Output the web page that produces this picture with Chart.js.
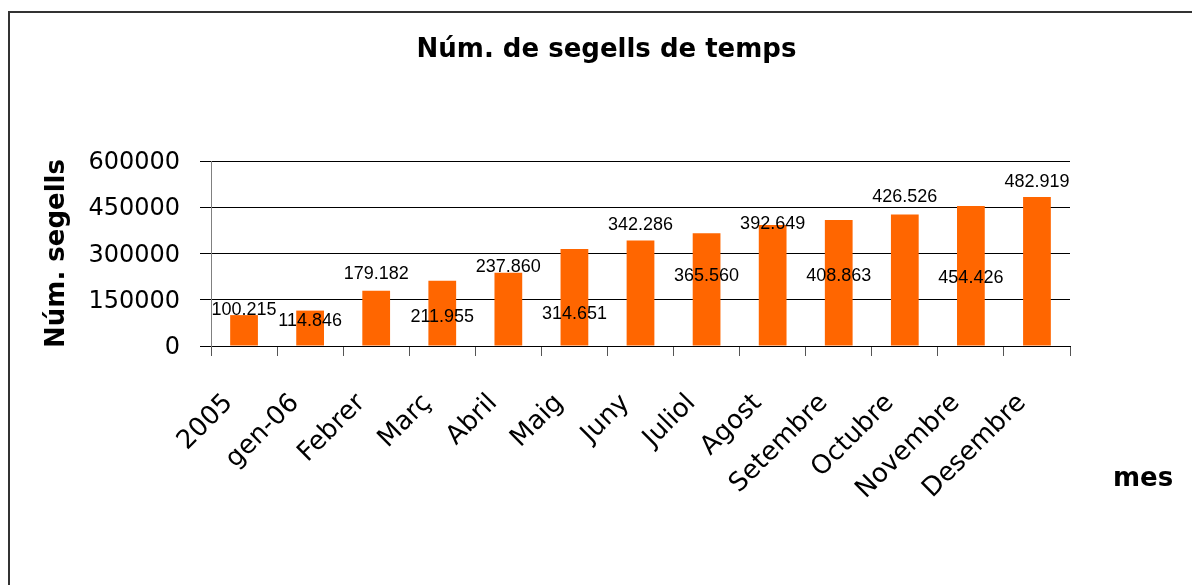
<!DOCTYPE html>
<html>
<head>
<meta charset="utf-8">
<script src="https://cdn.jsdelivr.net/npm/chart.js@4.4.0/dist/chart.umd.min.js"></script>
<style>
  html, body { margin: 0; padding: 0; background: #fff; }
  #wrap { position: relative; width: 1192px; height: 585px; overflow: hidden; }
  #frame { position: absolute; left: 8px; top: 11px; width: 1300px; height: 700px;
           border-left: 2px solid #333; border-top: 2px solid #333; }
  canvas { position: absolute; left: 0; top: 0; }
</style>
</head>
<body>
<div id="wrap">
  <div id="frame"></div>
  <canvas id="myChart" width="1192" height="585"></canvas>
</div>
<script>
const categories = ['2005', 'gen-06', 'Febrer', 'Març', 'Abril', 'Maig', 'Juny', 'Juliol', 'Agost', 'Setembre', 'Octubre', 'Novembre', 'Desembre'];
const segells = [100215, 114846, 179182, 211955, 237860, 314651, 342286, 365560, 392649, 408863, 426526, 454426, 482919];
const yTicks = [0, 150000, 300000, 450000, 600000];

// where each value label sits, px from the top of its bar (negative = above)
const labelShift = [-5, 10, -17, 36, -6, 65, -15, 43, -1, 56, -17, 72, -15];

function fmt(v) {
    return String(v).replace(/\B(?=(\d{3})+(?!\d))/g, '.');
}

// value labels on the bars
const barLabels = {
    id: 'barLabels',
    afterDatasetsDraw(chart) {
        const ctx = chart.ctx;
        const meta = chart.getDatasetMeta(0);
        ctx.save();
        ctx.font = '18px "Liberation Sans", Arial, sans-serif';
        ctx.fillStyle = '#000';
        ctx.textAlign = 'center';
        ctx.textBaseline = 'middle';
        meta.data.forEach((bar, i) => {
            ctx.fillText(fmt(segells[i]), bar.x, bar.y + labelShift[i]);
        });
        ctx.restore();
    }
};

// x axis title sits off to the right, like in the original
const xTitle = {
    id: 'xTitle',
    afterDraw(chart) {
        const ctx = chart.ctx;
        const area = chart.chartArea;
        ctx.save();
        ctx.font = 'bold 26px "DejaVu Sans", sans-serif';
        ctx.fillStyle = '#000';
        ctx.textAlign = 'center';
        ctx.textBaseline = 'middle';
        ctx.fillText('mes', area.right + 73, area.bottom + 133);
        ctx.restore();
    }
};

const ctx = document.getElementById('myChart').getContext('2d');

new Chart(ctx, {
    type: 'bar',
    data: {
        labels: categories,
        datasets: [{
            label: 'Núm. de segells de temps',
            data: segells,
            backgroundColor: '#FF6600',
            borderWidth: 0,
            barPercentage: 0.42,
            categoryPercentage: 1
        }]
    },
    options: {
        responsive: false,
        animation: false,
        devicePixelRatio: 1,
        layout: { padding: { left: 21, right: 0, top: 0, bottom: 0 } },
        plugins: {
            legend: { display: false },
            tooltip: { enabled: false },
            title: {
                display: true,
                text: 'Núm. de segells de temps',
                color: '#000',
                font: { family: '"DejaVu Sans", sans-serif', size: 26, weight: 'bold', lineHeight: 1 },
                padding: { top: 37, bottom: 98 }
            }
        },
        scales: {
            x: {
                afterFit: (scale) => { scale.height = 239; },
                grid: {
                    offset: true,
                    drawOnChartArea: false,
                    drawTicks: true,
                    tickLength: 10,
                    color: '#555'
                },
                border: { display: true, color: '#000', width: 1 },
                ticks: {
                    autoSkip: false,
                    maxRotation: 45,
                    minRotation: 45,
                    padding: 32,
                    labelOffset: -15,
                    color: '#000',
                    font: { family: '"DejaVu Sans", sans-serif', size: 26 }
                }
            },
            y: {
                min: 0,
                max: 600000,
                afterFit: (scale) => { scale.width = 190; },
                afterBuildTicks: (scale) => { scale.ticks = yTicks.map(v => ({ value: v })); },
                grid: {
                    color: '#000',
                    tickLength: 11,
                    drawTicks: true
                },
                border: { display: true, color: '#808080', width: 1 },
                ticks: {
                    padding: 20,
                    labelOffset: 2,
                    color: '#000',
                    font: { family: '"DejaVu Sans", sans-serif', size: 24 },
                    callback: (v) => String(v)
                },
                title: {
                    display: true,
                    text: 'Núm. segells',
                    color: '#000',
                    font: { family: '"DejaVu Sans", sans-serif', size: 26, weight: 'bold', lineHeight: 1 },
                    padding: { top: 23, bottom: 0 }
                }
            },
            // empty space on the right where the axis title "mes" goes
            spacer: {
                type: 'linear',
                position: 'right',
                display: true,
                afterFit: (scale) => { scale.width = 122; },
                grid: { display: false },
                border: { display: false },
                ticks: { display: false }
            }
        }
    },
    plugins: [barLabels, xTitle]
});
</script>
</body>
</html>
